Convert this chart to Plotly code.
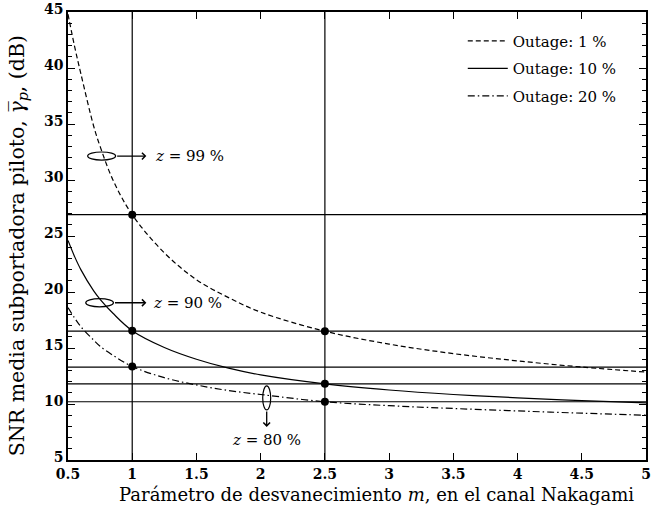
import plotly.graph_objects as go

# Nakagami fading parameter m
m_vals = [0.5, 0.55, 0.6, 0.7, 0.75, 0.85, 1.0, 1.25, 1.5, 1.75, 2.0, 2.5, 3.0, 3.5, 4.0, 4.5, 5.0]
# Required mean pilot SNR (dB)
snr_out1 = [44.8, 42.0, 39.5, 34.8, 33.0, 30.0, 26.9, 23.5, 21.1, 19.5, 18.2, 16.5, 15.35, 14.5, 13.85, 13.3, 12.85]
snr_out10 = [24.6, 23.2, 22.0, 20.1, 19.35, 18.1, 16.55, 15.05, 14.0, 13.2, 12.6, 11.8, 11.25, 10.85, 10.55, 10.3, 10.1]
snr_out20 = [18.6, 17.7, 16.9, 15.7, 15.15, 14.35, 13.35, 12.35, 11.7, 11.2, 10.85, 10.2, 9.85, 9.6, 9.38, 9.18, 9.0]
series_names = ["Outage: 1 %", "Outage: 10 %", "Outage: 20 %"]

# Marked operating points
pts_m = [1.0, 1.0, 1.0, 2.5, 2.5, 2.5]
pts_snr = [26.9, 16.55, 13.35, 16.5, 11.8, 10.2]

# Reference lines
hlines = [26.9, 16.5, 13.3, 11.8, 10.2]
vlines = [1.0, 2.5]

x_ticks = [0.5, 1, 1.5, 2, 2.5, 3, 3.5, 4, 4.5, 5]
x_ticklabels = ["0.5", "1", "1.5", "2", "2.5", "3", "3.5", "4", "4.5", "5"]
y_ticks = [5, 10, 15, 20, 25, 30, 35, 40, 45]

SERIF = "DejaVu Serif, Liberation Serif, serif"

fig = go.Figure()

for yv in hlines:
    fig.add_hline(y=yv, line=dict(color="black", width=1.2), layer="below")
for xv in vlines:
    fig.add_vline(x=xv, line=dict(color="black", width=1.2), layer="below")

dashes = ["5px,3px", "solid", "7px,3px,1.5px,3px"]
for i, (ys, nm) in enumerate(zip([snr_out1, snr_out10, snr_out20], series_names)):
    fig.add_trace(go.Scatter(
        x=m_vals, y=ys, mode="lines", name=nm, legendgroup=nm,
        line=dict(color="black", width=1.2, dash=dashes[i], shape="spline", smoothing=1.0),
    ))

fig.add_trace(go.Scatter(
    x=pts_m, y=pts_snr, mode="markers", showlegend=False,
    marker=dict(color="black", size=8),
))

# Ellipses marking the curves
ell = dict(type="circle", xref="x", yref="y", line=dict(color="black", width=1.2))
fig.add_shape(x0=0.653, x1=0.871, y0=31.78, y1=32.5, **ell)
fig.add_shape(x0=0.638, x1=0.854, y0=18.68, y1=19.40, **ell)
fig.add_shape(x0=2.016, x1=2.078, y0=9.47, y1=11.61, **ell)

arrow = dict(xref="x", yref="y", axref="x", ayref="y", text="", showarrow=True,
             arrowhead=4, arrowsize=1, arrowwidth=1.3, arrowcolor="black")
fig.add_annotation(x=1.11, y=32.14, ax=0.871, ay=32.14, **arrow)
fig.add_annotation(x=1.11, y=19.04, ax=0.854, ay=19.04, **arrow)
fig.add_annotation(x=2.047, y=7.95, ax=2.047, ay=9.47, **arrow)

lab = dict(xref="x", yref="y", showarrow=False, font=dict(family=SERIF, size=15, color="black"))
fig.add_annotation(x=1.16, y=32.14, text="<i>z</i> = 99 %", xanchor="left", yanchor="middle", **lab)
fig.add_annotation(x=1.15, y=19.04, text="<i>z</i> = 90 %", xanchor="left", yanchor="middle", **lab)
fig.add_annotation(x=2.047, y=6.8, text="<i>z</i> = 80 %", xanchor="center", yanchor="middle", **lab)

# Axis titles (placed as paper annotations to match reference position)
fig.add_annotation(xref="paper", yref="paper", x=0.533, y=-0.076, xanchor="center", yanchor="middle",
                   showarrow=False, text="Parámetro de desvanecimiento <i>m</i>, en el canal Nakagami",
                   font=dict(family=SERIF, size=18, color="black"))
fig.add_annotation(xref="paper", yref="paper", x=-0.0865, y=0.477, xanchor="center", yanchor="middle",
                   showarrow=False, textangle=-90,
                   text="SNR media subportadora piloto, <i>γ̅</i><sub><i>p</i></sub>, (dB)",
                   font=dict(family=SERIF, size=20.5, color="black"))

axis_common = dict(
    showgrid=False, zeroline=False, showline=True, linecolor="black", linewidth=1.5,
    mirror="allticks", ticks="inside", ticklen=7, tickwidth=1, tickcolor="black",
    tickfont=dict(family=SERIF, size=14, color="black", weight="bold"),
    automargin=False, ticklabeloverflow="allow",
)

fig.update_xaxes(
    range=[0.5, 5], tickmode="array", tickvals=x_ticks, ticktext=x_ticklabels,
    **axis_common,
)
fig.update_yaxes(
    range=[5, 45], tickmode="array", tickvals=y_ticks,
    minor=dict(dtick=1, ticks="inside", ticklen=4, tickcolor="black", tickwidth=1),
    ticklabelshift=-3,
    **axis_common,
)

fig.update_layout(
    width=654, height=513,
    margin=dict(l=68, r=8, t=12, b=53),
    plot_bgcolor="white", paper_bgcolor="white",
    showlegend=True,
    legend=dict(x=0.683, y=0.972, xanchor="left", yanchor="top",
                bgcolor="rgba(0,0,0,0)", borderwidth=0, tracegroupgap=5,
                font=dict(family=SERIF, size=15, color="black"), itemwidth=40),
)

fig.write_html("out.html", config={"displayModeBar": False},
               post_script="document.body.style.margin='0px';")
